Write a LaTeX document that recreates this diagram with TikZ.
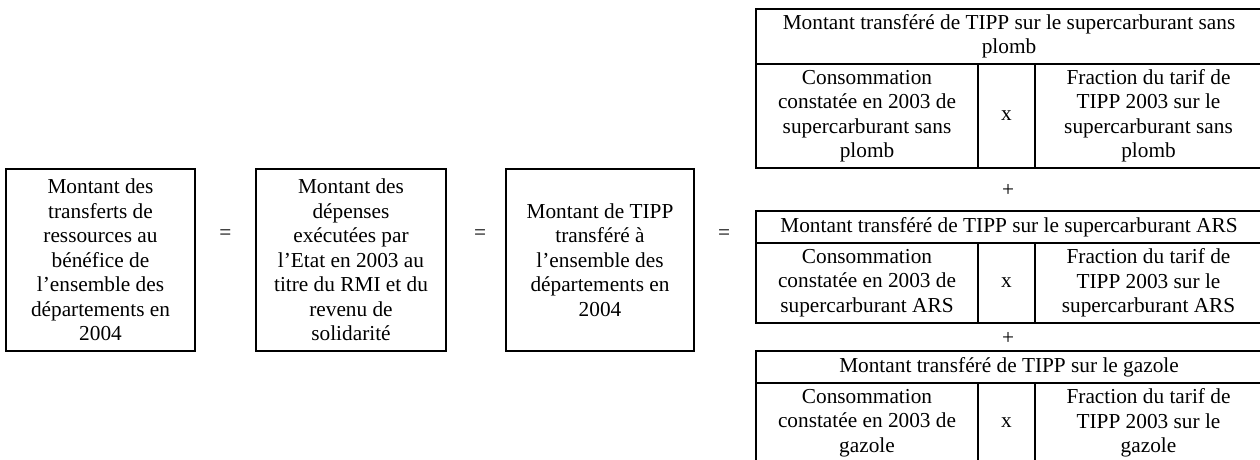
\documentclass[tikz,border=0pt]{standalone}
\usepackage{fontspec}
\setmainfont{Liberation Serif}
\begin{document}
\begin{tikzpicture}[x=1pt,y=-1pt,
  every node/.style={font=\fontsize{21.3}{24.5}\selectfont, align=center, inner sep=0pt},
  bigbox/.style={draw, line width=1.6pt, minimum height=182pt},
  cell/.style={draw, line width=1.6pt},
  sign/.style={}]
\useasboundingbox (0,0) rectangle (1260,459);
\clip (0,0) rectangle (1260,459);
% left boxes
\node[bigbox, minimum width=189pt] (b1) at (100.5,260) {Montant des\\transferts de\\ressources au\\bénéfice de\\l’ensemble des\\départements en\\2004};
\node[bigbox, minimum width=190pt] (b2) at (351,260) {Montant des\\dépenses\\exécutées par\\l’Etat en 2003 au\\titre du RMI et du\\revenu de\\solidarité};
\node[bigbox, minimum width=188pt] (b3) at (600,260) {Montant de TIPP\\transféré à\\l’ensemble des\\départements en\\2004};
\node[sign] (eq1) at (225.5,235) {=};
\node[sign] (eq2) at (480,235) {=};
\node[sign] (eq3) at (724,235) {=};
% table 1
\node[cell, minimum width=506pt, minimum height=55pt] (h1) at (1009,36.5) {Montant transféré de TIPP sur le supercarburant sans\\plomb};
\node[cell, minimum width=222pt, minimum height=104pt] (l1) at (867,116) {Consommation\\constatée en 2003 de\\supercarburant sans\\plomb};
\node[cell, minimum width=57pt, minimum height=104pt] (m1) at (1006.5,116) {x};
\node[cell, minimum width=227pt, minimum height=104pt] (r1) at (1148.5,116) {Fraction du tarif de\\TIPP 2003 sur le\\supercarburant sans\\plomb};
\node[sign] (p1) at (1008,190) {+};
% table 2
\node[cell, minimum width=506pt, minimum height=32pt] (h2) at (1009,227) {Montant transféré de TIPP sur le supercarburant ARS};
\node[cell, minimum width=222pt, minimum height=80pt] (l2) at (867,283) {Consommation\\constatée en 2003 de\\supercarburant ARS};
\node[cell, minimum width=57pt, minimum height=80pt] (m2) at (1006.5,283) {x};
\node[cell, minimum width=227pt, minimum height=80pt] (r2) at (1148.5,283) {Fraction du tarif de\\TIPP 2003 sur le\\supercarburant ARS};
\node[sign] (p2) at (1008,338) {+};
% table 3
\node[cell, minimum width=506pt, minimum height=32pt] (h3) at (1009,367) {Montant transféré de TIPP sur le gazole};
\node[cell, minimum width=222pt, minimum height=80pt] (l3) at (867,423) {Consommation\\constatée en 2003 de\\gazole};
\node[cell, minimum width=57pt, minimum height=80pt] (m3) at (1006.5,423) {x};
\node[cell, minimum width=227pt, minimum height=80pt] (r3) at (1148.5,423) {Fraction du tarif de\\TIPP 2003 sur le\\gazole};
\end{tikzpicture}
\end{document}
